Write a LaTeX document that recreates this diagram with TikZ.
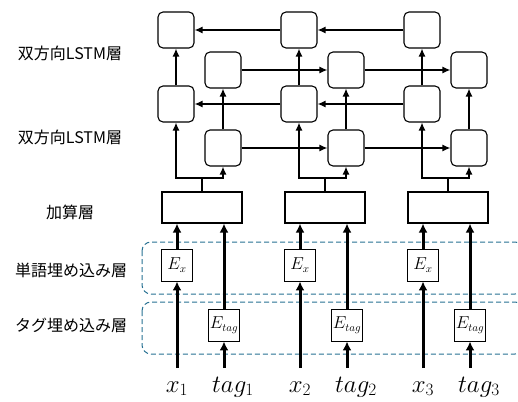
\documentclass[tikz,border=0pt]{standalone}
\usepackage{fontspec}
\newfontfamily\jpfont{Noto Sans CJK JP}
\usetikzlibrary{arrows.meta}
\definecolor{layerblue}{RGB}{38,112,146}

\begin{document}
\begin{tikzpicture}[x=1pt,y=-1pt,
    lstm/.style={draw, rounded corners=5pt, line width=1.1pt, minimum width=36pt, minimum height=36pt, inner sep=0pt},
    addbox/.style={draw, line width=1.1pt, minimum width=80pt, minimum height=31pt, inner sep=0pt},
    emb/.style={draw, line width=0.9pt, minimum width=31pt, minimum height=32pt, inner sep=0pt, font=\fontsize{16}{18}\selectfont},
    conn/.style={line width=1.3pt, -{Latex[length=8pt,width=7pt]}},
    thickconn/.style={line width=3pt, -{Latex[length=9pt,width=9pt]}},
    layerlabel/.style={font=\jpfont\fontsize{16}{19}\selectfont},
    layerframe/.style={draw=layerblue, line width=1pt, rounded corners=9pt, dash pattern=on 5pt off 3pt},
    word/.style={inner sep=0pt, font=\fontsize{25}{28}\selectfont}]
  \useasboundingbox (0,0) rectangle (518,401);

  % Einbettungsschichten (gestrichelte Rahmen)
  \draw[layerframe] (142,242) rectangle (524,294);
  \draw[layerframe] (142,302) rectangle (524,354);

  % Beschriftungen links
  \node[layerlabel] (lblB) at (70,53) {双方向LSTM層};
  \node[layerlabel] (lblA) at (70,137) {双方向LSTM層};
  \node[layerlabel] (lblAdd) at (70,212) {加算層};
  \node[layerlabel] (lblWord) at (71,270) {単語埋め込み層};
  \node[layerlabel] (lblTag) at (71,325) {タグ埋め込み層};

  \foreach \i/\xv in {1/176,2/299,3/422} {
    \node[lstm] (bwB\i) at (\xv,30) {};
    \node[lstm] (fwB\i) at (\xv+47,70) {};
    \node[lstm] (bwA\i) at (\xv,104) {};
    \node[lstm] (fwA\i) at (\xv+47,148) {};
    \node[addbox] (add\i) at (\xv+26,207.5) {};
    \node[emb] (ex\i) at (\xv+1,265) {$E_x$};
    \node[emb] (et\i) at (\xv+48,325) {$E_{tag}$};
    \node[word, anchor=base] (xw\i) at (\xv+1,392) {$x_\i$};
    \node[word, anchor=base west] (tw\i) at (\xv+36,392) {$tag_\i$};
    \coordinate (xstart\i) at (\xv+1,368);
    \coordinate (tstart\i) at (\xv+48,368);
    \coordinate (split\i) at (\xv+26,178);

    % Eingaben
    \draw[thickconn] (xstart\i) -- (ex\i);
    \draw[thickconn] (ex\i) -- (ex\i |- add\i.south);
    \draw[thickconn] (tstart\i) -- (et\i);
    \draw[thickconn] (et\i) -- (et\i |- add\i.south);

    % Verzweigung zu den LSTM-Zellen
    \draw[line width=1.3pt] (add\i) -- (split\i);
    \draw[conn] (split\i) -| (bwA\i);
    \draw[conn] (split\i) -| (fwA\i);
    \draw[conn] (bwA\i) -- (bwB\i);
    \draw[conn] (fwA\i) -- (fwB\i);
  }

  % Vorwaerts- und Rueckwaertsrichtung
  \foreach \i/\j in {1/2,2/3} {
    \draw[conn] (fwA\i) -- (fwA\j);
    \draw[conn] (fwB\i) -- (fwB\j);
    \draw[conn] (bwA\j) -- (bwA\i);
    \draw[conn] (bwB\j) -- (bwB\i);
  }
\end{tikzpicture}
\end{document}
